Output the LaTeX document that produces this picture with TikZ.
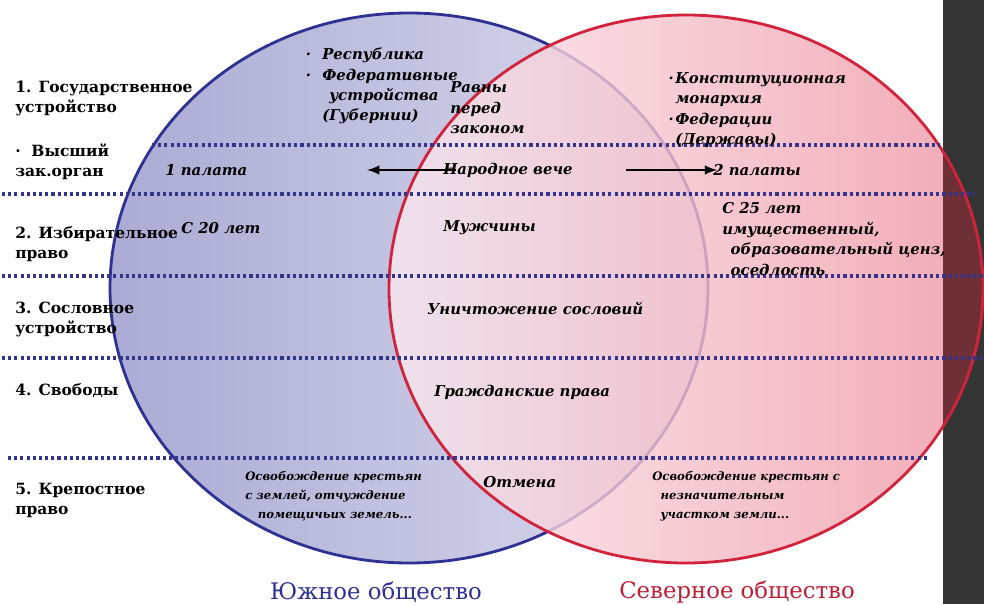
\documentclass[tikz,border=0pt]{standalone}
\usepackage{fontspec}
\setmainfont{DejaVu Serif}

\definecolor{southblue}{HTML}{2E3192}
\definecolor{northred}{HTML}{D2233C}
\definecolor{dotblue}{HTML}{34348A}
\definecolor{bargray}{HTML}{353535}
\definecolor{barred}{HTML}{6E2F36}
\definecolor{southleft}{RGB}{170,170,212}
\definecolor{southright}{RGB}{220,220,238}
\definecolor{northleft}{RGB}{250,234,240}
\definecolor{northright}{RGB}{238,148,162}

\begin{document}
\begin{tikzpicture}[x=0.025cm, y=-0.025cm,
  rowlabel/.style={anchor=west, align=left, inner sep=0pt, font=\bfseries\fontsize{11}{14.2}\selectfont},
  cell/.style={anchor=west, align=left, inner sep=0pt, font=\bfseries\itshape\fontsize{10.6}{14.5}\selectfont},
  smallcell/.style={cell, font=\bfseries\itshape\fontsize{8.3}{13.4}\selectfont},
  divider/.style={dotblue, line width=2.6pt, dash pattern=on 2.2pt off 2.2pt},
  arrowline/.style={line width=2pt, -latex},
  society/.style={font=\fontsize{16.2}{19}\selectfont}]

\useasboundingbox (0,0) rectangle (984,604);
\fill[bargray] (943,0) rectangle (984,604);

\draw[southblue, line width=2pt, left color=southleft, right color=southright]
  (409,288) ellipse [x radius=299, y radius=275];

\shade[fill opacity=0.8, left color=northleft, right color=northright]
  (686,289) ellipse [x radius=297, y radius=274];
\begin{scope}
  \clip (943,0) rectangle (984,604);
  \fill[barred] (686,289) ellipse [x radius=297, y radius=274];
\end{scope}
\draw[northred, line width=2pt] (686,289) ellipse [x radius=297, y radius=274];

\foreach \yy/\xa/\xb in {145/152/940, 194/2/975, 276/2/984, 358/2/982, 458/8/928}
  \draw[divider] (\xa,\yy) -- (\xb,\yy);


\node[rowlabel] (gosud) at (15,98) {1. Государственное\\устройство};
\node[rowlabel] (vysshij) at (15,162) {·\ \ Высший\\зак.орган};
\node[rowlabel] (izbir) at (15,244) {2. Избирательное\\право};
\node[rowlabel] (soslov) at (15,319) {3. Сословное\\устройство};
\node[rowlabel] (svobody) at (15,391) {4. Свободы};
\node[rowlabel] (krepost) at (15,500) {5. Крепостное\\право};


\node[cell] (respub) at (322,86) {\llap{·\hspace{8pt}}Республика\\\llap{·\hspace{8pt}}Федеративные\\\hspace*{5pt}устройства\\(Губернии)};
\node[cell] (ravny) at (450,108) {Равны\\перед\\законом};
\node[cell] (konst) at (675,110) {\llap{·\hspace{1pt}}Конституционная\\монархия\\\llap{·\hspace{1pt}}Федерации\\(Державы)};

\node[cell] (palata) at (165,170) {1 палата};
\node[cell] (veche) at (443,170) {Народное вече};
\node[cell] (palaty) at (713,170) {2 палаты};
\coordinate (lhead) at (367,170);
\draw[arrowline] ([xshift=9pt]veche.west) -- (lhead);
\draw[arrowline] ([xshift=38pt]veche.east) -- ([xshift=3pt]palaty.west);

\node[cell] (s20) at (181,228) {С 20 лет};
\node[cell] (muzh) at (443,228) {Мужчины};
\node[cell] (s25) at (722,239) {С 25 лет\\имущественный,\\\hspace*{6pt}образовательный ценз,\\\hspace*{6pt}оседлость};

\node[cell] (unichtozh) at (427,309) {Уничтожение сословий};
\node[cell] (grazhd) at (434,392) {Гражданские права};

\node[smallcell] (osvobS) at (245,496) {Освобождение крестьян\\с землей, отчуждение\\\hspace*{9pt}помещичьих земель...};
\node[cell] (otmena) at (483,482) {Отмена};
\node[smallcell] (osvobN) at (652,496) {Освобождение крестьян с\\\hspace*{6pt}незначительным\\\hspace*{6pt}участком земли...};


\node[society, text=southblue] (south) at (376,592) {Южное общество};
\node[society, text=northred!90!black] (north) at (737,592) {Северное общество};

\end{tikzpicture}
\end{document}
